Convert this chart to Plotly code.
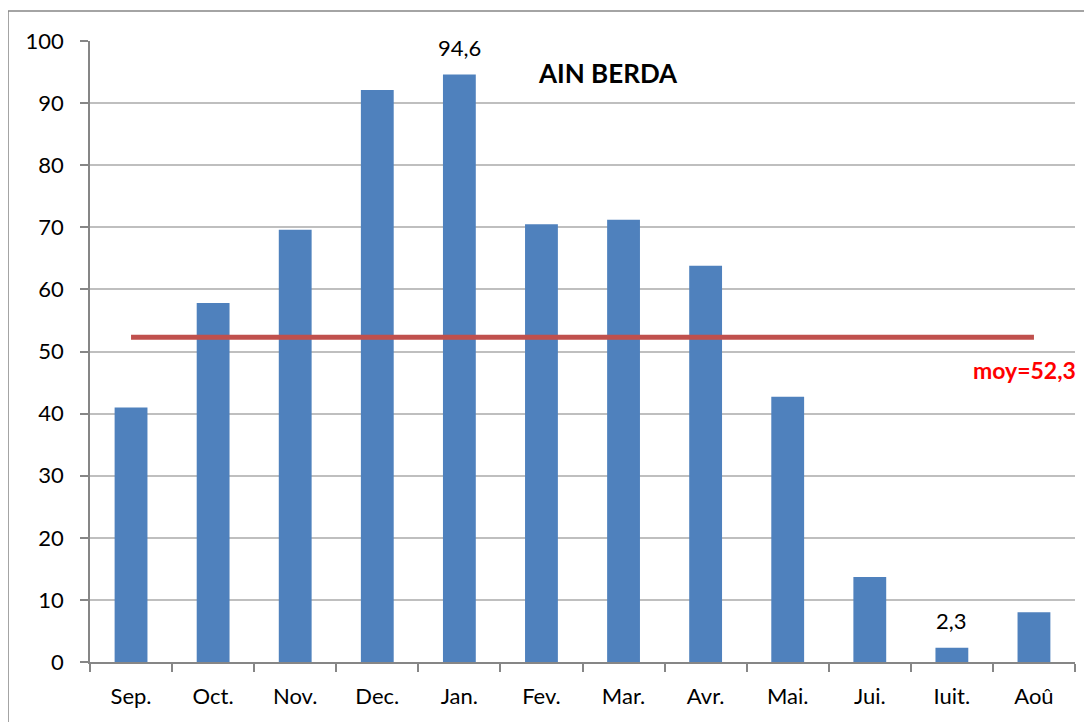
"""Monthly precipitation bar chart - Ain Berda."""

import plotly.graph_objects as go

months = ["Sep.", "Oct.", "Nov.", "Dec.", "Jan.", "Fev.", "Mar.", "Avr.", "Mai.", "Jui.", "Iuit.", "Aoû"]
rainfall = [41.0, 57.8, 69.6, 92.1, 94.6, 70.5, 71.2, 63.8, 42.7, 13.7, 2.3, 8.0]
bar_labels = ["", "", "", "", "94,6", "", "", "", "", "", "2,3", ""]
mean_value = 52.3
station = "AIN BERDA"

# page has an 8px body margin, so the figure is drawn 8px in from the corner
OFF = 8
W, H = 1092 - OFF, 722 - OFF
L, R, T, B = 90 - OFF, 17, 41 - OFF, 60
pw, ph = W - L - R, H - T - B

FONT = "Lato, Calibri, Open Sans, sans-serif"


def px_x(x):
    # page pixel -> paper fraction
    return (x - OFF - L) / pw


def px_y(y):
    return (H - B - (y - OFF)) / ph


fig = go.Figure()

fig.add_trace(
    go.Bar(
        x=months,
        y=rainfall,
        marker=dict(color="#4F81BD", line=dict(width=0)),
        showlegend=False,
    )
)

# mean line
fig.add_trace(
    go.Scatter(
        x=months,
        y=[mean_value] * len(months),
        mode="lines",
        line=dict(color="#C0504D", width=5),
        showlegend=False,
    )
)

# data labels, sitting a bit above the bar tops
for m, v, lab in zip(months, rainfall, bar_labels):
    if lab:
        fig.add_annotation(
            x=m, y=v, text=lab,
            yshift=27, showarrow=False,
            font=dict(size=22, color="black", family=FONT),
        )

fig.add_annotation(
    text="<b>" + station + "</b>",
    xref="paper", yref="paper",
    x=px_x(608), y=px_y(73),
    xanchor="center", yanchor="middle",
    showarrow=False,
    font=dict(size=26, color="black", family=FONT),
)
fig.add_annotation(
    text="<b>moy=" + f"{mean_value:.1f}".replace(".", ",") + "</b>",
    xref="paper", yref="paper",
    x=px_x(1078), y=px_y(370),
    xanchor="right", yanchor="middle",
    showarrow=False,
    font=dict(size=23, color="#FF0000", family=FONT),
)

# outer frame
fig.add_shape(
    type="rect",
    xref="paper", yref="paper",
    x0=px_x(8), x1=px_x(1110), y0=px_y(740), y1=px_y(11),
    line=dict(color="#868686", width=1.5),
    layer="below",
)

fig.update_layout(
    width=W,
    height=H,
    margin=dict(l=L, r=R, t=T, b=B),
    paper_bgcolor="white",
    plot_bgcolor="white",
    bargap=0.6,
    font=dict(family=FONT, size=22, color="black"),
    xaxis=dict(
        showline=True,
        linecolor="#868686",
        linewidth=1.5,
        ticks="outside",
        tickson="boundaries",
        ticklen=8,
        tickcolor="#868686",
        tickwidth=1.5,
        tickfont=dict(size=22),
        ticklabelstandoff=14,
        showgrid=False,
    ),
    yaxis=dict(
        range=[0, 100],
        dtick=10,
        showline=True,
        linecolor="#868686",
        linewidth=1.5,
        ticks="outside",
        ticklen=8,
        tickcolor="#868686",
        tickwidth=1.5,
        ticklabelstandoff=12,
        showgrid=True,
        gridcolor="#BFBFBF",
        gridwidth=1.5,
        zeroline=False,
        tickfont=dict(size=22),
    ),
)

fig.write_html("out.html")
